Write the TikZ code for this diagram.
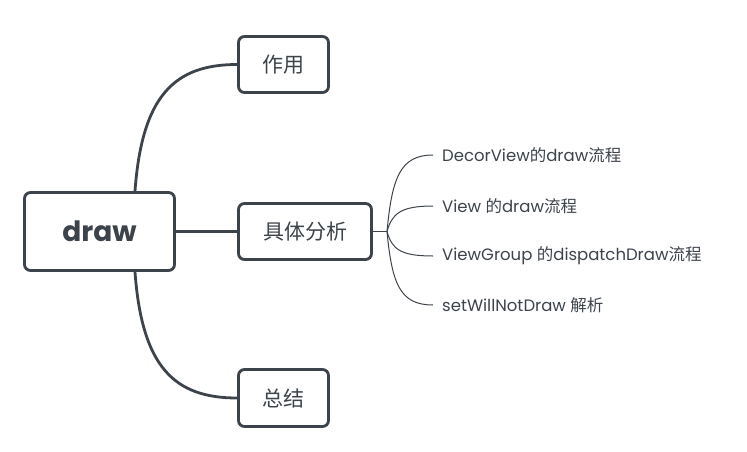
\documentclass[tikz,border=0pt]{standalone}
\usepackage{fontspec}
\setmainfont{Poppins}
\newfontfamily\cjk{Noto Sans CJK SC}
\definecolor{ink}{HTML}{3D434A}
\begin{document}
\begin{tikzpicture}[x=1pt,y=-1pt,
  box/.style={draw=ink, line width=2.8pt, rounded corners=6pt, fill=white, text=ink, inner sep=0pt},
  conn/.style={draw=ink, line width=2.8pt},
  subconn/.style={draw=ink, line width=1pt},
  sublabel/.style={anchor=west, inner sep=0pt, text=ink, font=\fontsize{16.5}{19}\selectfont}]
\useasboundingbox (0,0) rectangle (747,452);
\node[box, minimum width=150pt, minimum height=78pt, font=\bfseries\fontsize{28}{31}\selectfont] (root) at (99.5,231.5) {draw};
\node[box, minimum width=90pt, minimum height=56pt, font=\cjk\fontsize{21}{24}\selectfont] (a) at (283.5,64.5) {作用};
\node[box, minimum width=133pt, minimum height=56pt, font=\cjk\fontsize{21}{24}\selectfont] (b) at (305,231.5) {具体分析};
\node[box, minimum width=90pt, minimum height=57pt, font=\cjk\fontsize{21}{24}\selectfont] (c) at (283.5,398) {总结};
\coordinate (rt) at (135,191);
\coordinate (rb) at (135,272);
\draw[conn] (rt) .. controls (142,95) and (175,64.5) .. (a.west);
\draw[conn] (root.east) -- (b.west);
\draw[conn] (rb) .. controls (142,368) and (175,398) .. (c.west);
\coordinate (j) at (387,231.5);
\node[sublabel] (l1) at (442,155) {DecorView{\cjk 的}draw{\cjk 流程}};
\node[sublabel] (l2) at (442,206) {View {\cjk 的}draw{\cjk 流程}};
\node[sublabel] (l3) at (442,256) {ViewGroup {\cjk 的}dispatchDraw{\cjk 流程}};
\node[sublabel] (l4) at (442,305) {setWillNotDraw {\cjk 解析}};
\draw[subconn] (b.east) -- (j);
\draw[subconn] (j) .. controls (392,178) and (400,155) .. ([xshift=-9pt]l1.west);
\draw[subconn] (j) .. controls (392,214) and (400,206) .. ([xshift=-9pt]l2.west);
\draw[subconn] (j) .. controls (392,249) and (400,256) .. ([xshift=-9pt]l3.west);
\draw[subconn] (j) .. controls (392,284) and (400,305) .. ([xshift=-9pt]l4.west);
\end{tikzpicture}
\end{document}
